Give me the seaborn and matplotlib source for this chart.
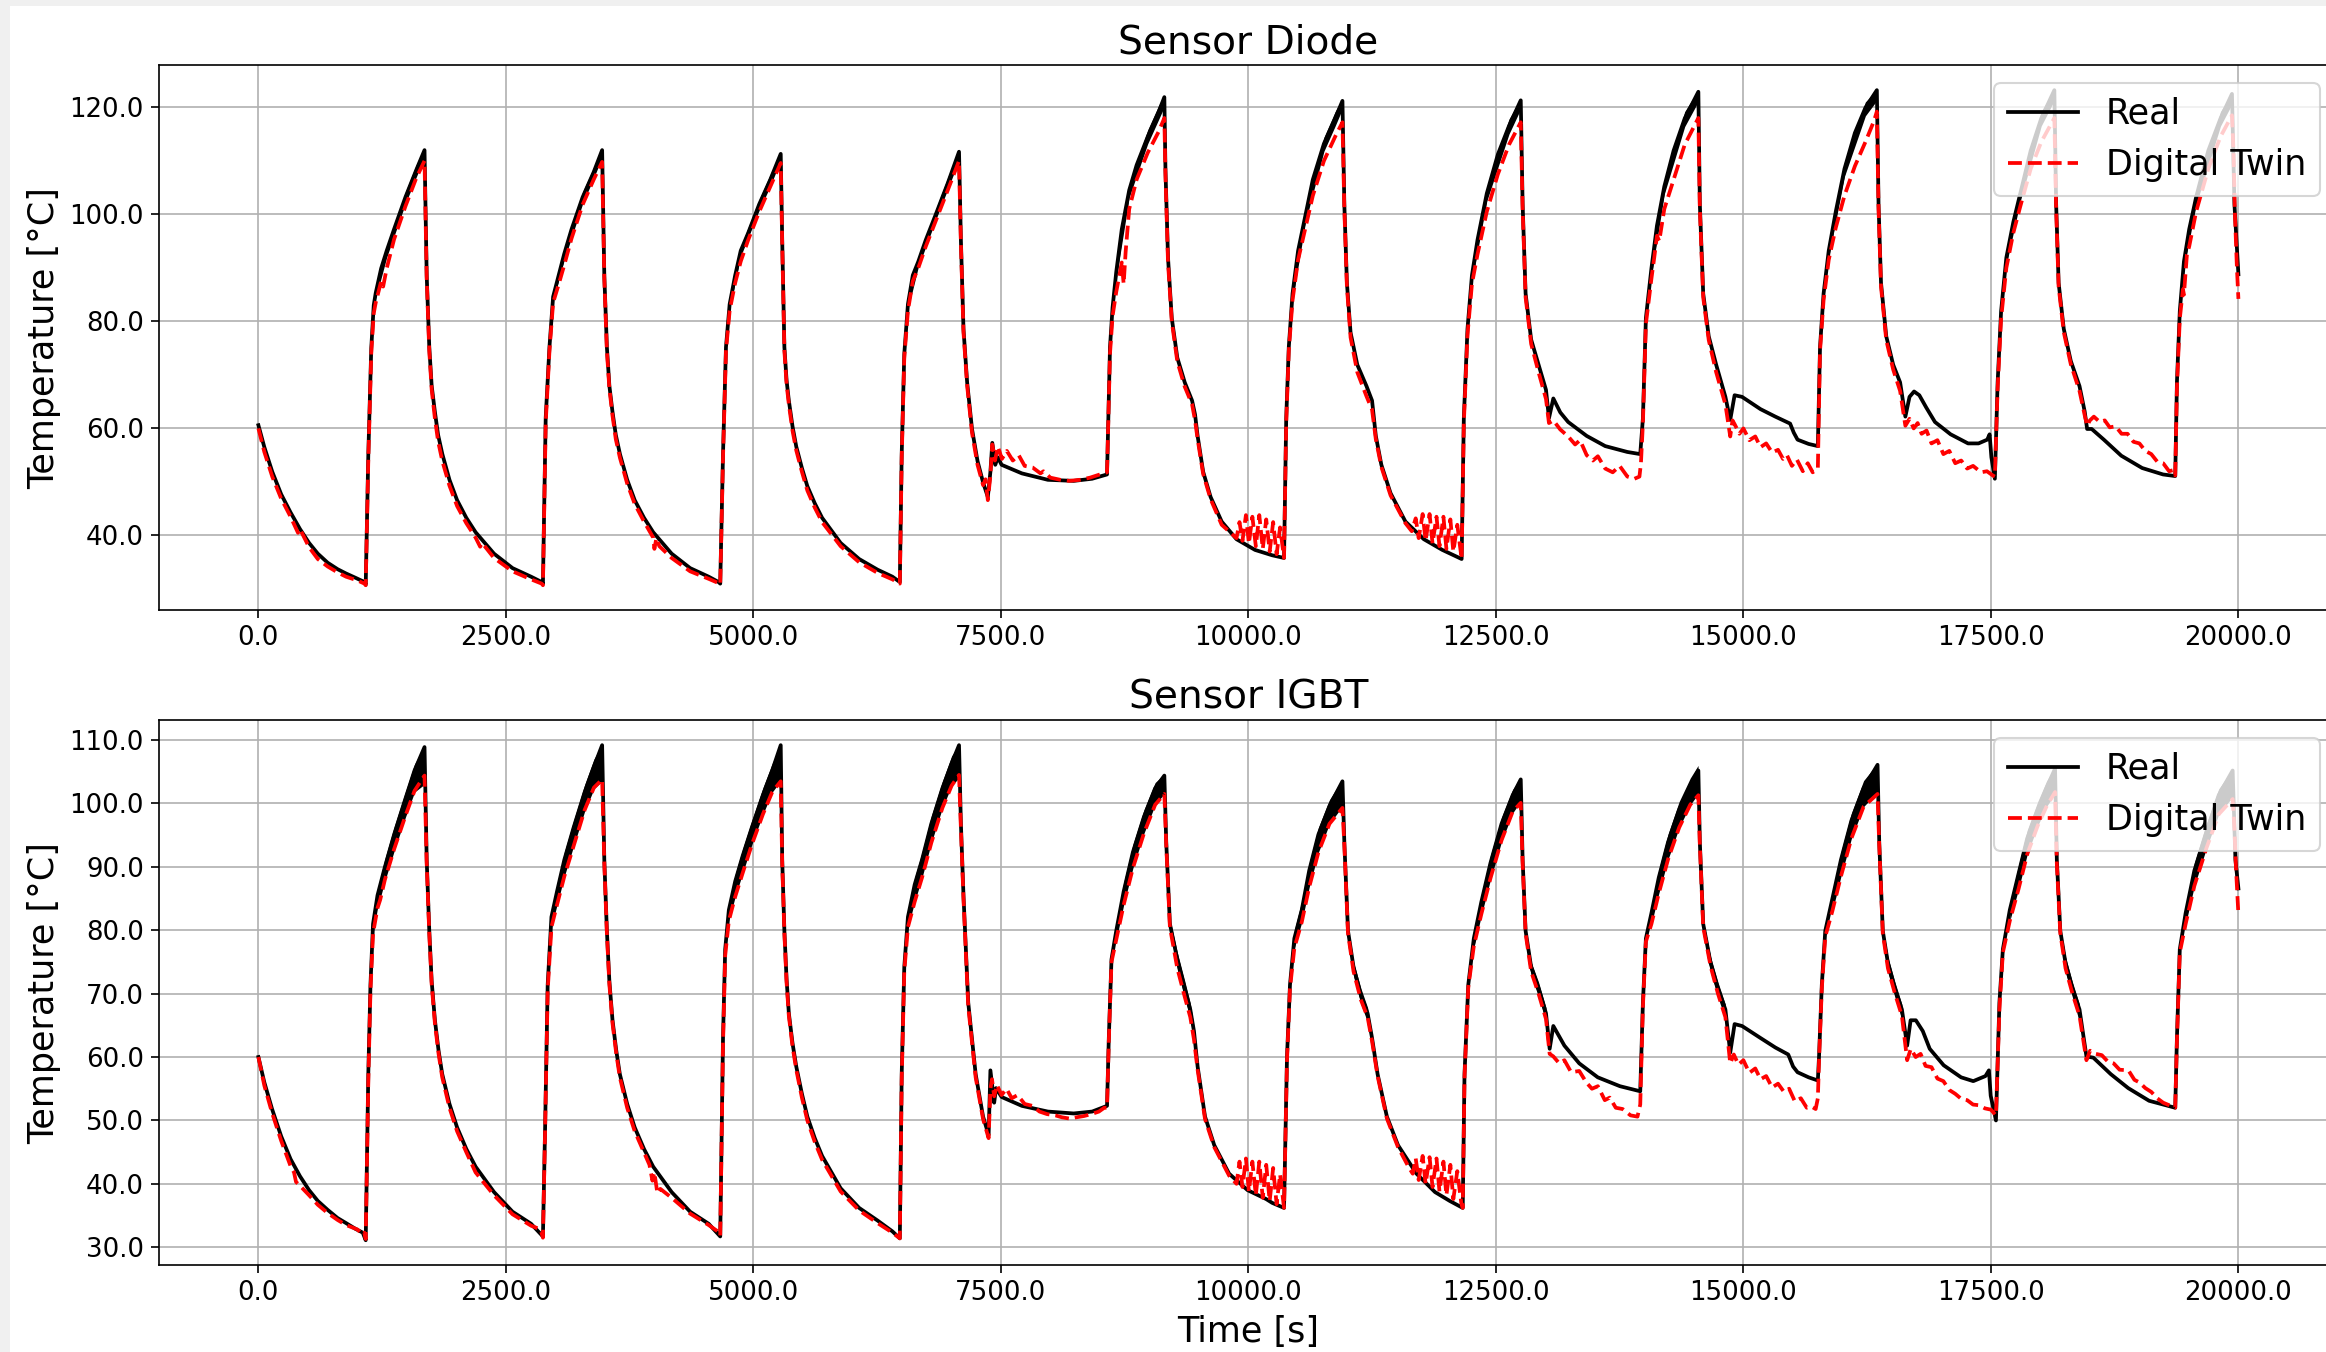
import numpy as np
import matplotlib
matplotlib.use("Agg")
import matplotlib.pyplot as plt
from matplotlib.ticker import MultipleLocator, FormatStrFormatter
from matplotlib.patches import Rectangle
import seaborn as sns

# ---------------------------------------------------------------------------
# Measured temperature traces, [time s, temperature degC]
# ---------------------------------------------------------------------------
diode_real = np.array([
    [0, 60.6], [60, 56.5], [140, 51.9], [230, 47.7], [325, 44.3], [420, 41.2], [512, 38.6], [600, 36.6],
    [700, 34.9], [800, 33.7], [885, 32.9], [980, 32.1], [1072, 31.3], [1084, 30.8],
    [1110, 55.0], [1140, 75.0], [1165, 83.0], [1185, 85.3], [1240, 89.9], [1296, 93.2], [1370, 97.2],
    [1485, 103.2], [1595, 108.3], [1678, 112.0],
    [1700, 88.6], [1726, 75.2], [1750, 68.0], [1782, 63.2], [1815, 58.8], [1858, 55.2], [1930, 50.4],
    [2007, 46.6], [2100, 43.3], [2194, 40.6], [2380, 36.6],
    [2567, 33.9], [2754, 32.3], [2862, 31.3], [2874, 30.9],
    [2902, 62.0], [2940, 75.2], [2977, 84.6], [3033, 88.6], [3089, 92.6], [3163, 97.2], [3275, 103.2],
    [3387, 107.9], [3472, 112.0],
    [3494, 88.6], [3520, 75.2], [3545, 68.0], [3576, 63.2], [3610, 58.8], [3652, 55.2], [3725, 50.4],
    [3801, 46.6], [3895, 43.3], [3988, 40.6], [4174, 36.6],
    [4361, 33.9], [4548, 32.3], [4648, 31.3], [4665, 31.0],
    [4693, 55.2], [4723, 75.2], [4760, 83.2], [4816, 88.6], [4872, 93.2], [4947, 96.5], [5059, 101.9],
    [5171, 106.5], [5276, 111.3],
    [5291, 95.2], [5313, 75.2], [5335, 69.0], [5358, 65.2], [5395, 60.4], [5433, 56.6], [5490, 52.6],
    [5545, 49.2], [5620, 46.0], [5694, 43.3], [5881, 38.6],
    [6068, 35.6], [6255, 33.6], [6404, 32.3], [6479, 31.3],
    [6498, 55.2], [6524, 73.9], [6561, 83.2], [6610, 88.6], [6666, 91.2], [6741, 95.2], [6853, 100.5],
    [6965, 105.9], [7077, 111.7],
    [7096, 95.2], [7122, 78.6], [7159, 68.6], [7208, 59.9], [7264, 53.9], [7320, 49.9], [7368, 47.2],
    [7394, 51.9], [7413, 57.3], [7443, 53.2], [7469, 54.6], [7507, 53.2], [7712, 51.6], [7974, 50.4],
    [8235, 50.2], [8422, 50.6], [8572, 51.4],
    [8602, 75.2], [8628, 82.6], [8665, 89.2], [8721, 97.2], [8796, 104.5], [8871, 109.2], [8983, 114.5],
    [9095, 119.2], [9151, 121.9],
    [9162, 108.5], [9188, 91.9], [9226, 80.6], [9282, 73.2], [9357, 68.6], [9431, 65.2], [9461, 62.6],
    [9487, 58.6], [9543, 51.9], [9618, 47.2], [9730, 42.6], [9880, 39.3], [10067, 37.3], [10240, 36.3],
    [10360, 35.8],
    [10382, 61.9], [10408, 75.2], [10446, 85.2], [10502, 93.2], [10577, 99.9], [10651, 106.5],
    [10763, 113.2], [10876, 117.9], [10950, 121.2],
    [10969, 101.9], [10995, 87.2], [11032, 77.9], [11100, 71.9], [11193, 67.9], [11249, 65.2],
    [11287, 58.6], [11343, 53.2], [11436, 47.9], [11586, 42.6], [11772, 39.3], [11959, 37.3], [12154, 35.6],
    [12176, 61.9], [12213, 78.6], [12258, 88.6], [12314, 95.2], [12408, 103.9], [12520, 111.2],
    [12632, 116.5], [12751, 121.3],
    [12770, 101.9], [12800, 85.2], [12856, 76.6], [12931, 71.9], [13006, 67.2], [13036, 61.9],
    [13080, 65.6], [13150, 63.0], [13230, 61.2], [13417, 58.6], [13604, 56.7], [13828, 55.6], [13958, 55.2],
    [13985, 61.9], [14015, 80.6], [14071, 89.9], [14127, 97.9], [14201, 105.2], [14295, 111.9],
    [14407, 117.9], [14545, 122.9],
    [14560, 101.9], [14594, 85.2], [14650, 77.2], [14725, 71.9], [14818, 65.9], [14867, 61.6],
    [14911, 66.2], [14986, 65.9], [15173, 63.6], [15323, 62.2], [15472, 60.9], [15509, 59.2],
    [15547, 57.9], [15659, 57.1], [15752, 56.7],
    [15774, 75.2], [15810, 85.2], [15862, 93.2], [15933, 100.5], [16021, 108.5], [16126, 115.2],
    [16232, 119.9], [16348, 123.2],
    [16365, 101.9], [16390, 87.2], [16443, 77.2], [16513, 71.9], [16583, 68.6], [16636, 62.2],
    [16678, 65.9], [16724, 66.9], [16777, 66.2], [16847, 63.9], [16935, 61.2], [17093, 58.9],
    [17269, 57.2], [17375, 57.2], [17463, 57.9], [17487, 58.9], [17505, 54.6], [17540, 50.6],
    [17568, 68.6], [17603, 81.9], [17656, 91.9], [17726, 98.5], [17797, 103.9], [17902, 111.9],
    [18008, 117.9], [18141, 123.2],
    [18159, 101.9], [18184, 87.2], [18236, 78.6], [18307, 72.6], [18395, 67.9], [18447, 63.2],
    [18472, 59.9], [18518, 59.9], [18641, 57.9], [18817, 54.9], [19028, 52.6], [19239, 51.4], [19362, 51.1],
    [19379, 68.6], [19408, 81.9], [19450, 91.2], [19503, 97.2], [19573, 103.2], [19696, 111.9],
    [19819, 117.9], [19935, 122.5],
    [19960, 101.9], [20000, 88.8],
])

diode_twin = np.array([
    [0, 60.0], [60, 55.6], [140, 51.0], [230, 46.9], [325, 43.5], [400, 40.5], [420, 41.2], [512, 37.8],
    [600, 35.6], [700, 34.2], [800, 33.1], [885, 32.3], [1000, 31.6], [1072, 31.0], [1084, 30.7],
    [1110, 54.0], [1140, 74.0], [1165, 81.5], [1185, 83.5], [1240, 87.5], [1260, 86.5], [1296, 89.9],
    [1370, 95.3], [1485, 101.5], [1595, 106.8], [1678, 110.0],
    [1700, 88.0], [1726, 74.5], [1750, 67.3], [1782, 62.0], [1815, 57.6], [1858, 53.9], [1930, 49.3],
    [2007, 45.5], [2100, 42.3], [2194, 39.6], [2240, 37.9],
    [2260, 38.6], [2380, 35.8], [2567, 33.3], [2754, 31.8], [2862, 31.0], [2874, 30.7],
    [2902, 61.0], [2940, 74.5], [2977, 83.5], [3033, 86.9], [3089, 90.5], [3163, 95.5], [3275, 101.8],
    [3387, 106.5], [3472, 109.8],
    [3494, 88.0], [3520, 74.5], [3545, 67.5], [3576, 62.5], [3610, 58.0], [3652, 54.5], [3725, 49.7],
    [3801, 45.9], [3895, 42.6], [3988, 39.6], [4000, 37.5],
    [4020, 39.5], [4050, 38.0], [4174, 35.8], [4361, 33.3], [4548, 31.9], [4648, 31.1], [4665, 30.8],
    [4693, 54.5], [4723, 74.5], [4760, 82.0], [4816, 87.2], [4872, 91.2], [4947, 95.2], [5059, 100.5],
    [5171, 105.2], [5276, 109.6],
    [5291, 94.5], [5313, 74.5], [5335, 68.3], [5358, 64.5], [5395, 59.6], [5433, 55.9], [5490, 51.9],
    [5545, 48.4], [5620, 45.2], [5694, 42.5], [5881, 38.0],
    [6068, 35.0], [6255, 33.0], [6404, 31.8], [6479, 31.0],
    [6498, 54.5], [6524, 73.2], [6561, 82.0], [6610, 87.5], [6666, 90.0], [6741, 94.0], [6853, 99.3],
    [6965, 104.6], [7077, 110.0],
    [7096, 94.5], [7122, 78.0], [7159, 68.0], [7208, 59.2], [7264, 53.2], [7320, 49.4], [7345, 50.5],
    [7368, 46.6], [7394, 51.2], [7413, 57.0], [7440, 54.0], [7470, 56.6], [7510, 54.3], [7560, 55.8],
    [7620, 54.0], [7680, 55.0], [7740, 53.0], [7820, 52.7], [7900, 51.6], [7930, 52.0], [8000, 50.8],
    [8100, 50.4], [8190, 50.2], [8300, 50.4], [8400, 50.8], [8500, 51.4], [8572, 51.8],
    [8602, 74.0], [8628, 81.0], [8665, 85.5], [8721, 91.0], [8740, 87.0], [8760, 93.0], [8796, 101.0],
    [8871, 106.5], [8983, 111.5], [9095, 115.5], [9151, 118.0],
    [9162, 107.5], [9188, 91.0], [9226, 80.0], [9282, 72.5], [9357, 67.8], [9431, 64.5], [9461, 61.5],
    [9487, 58.0], [9543, 51.5], [9618, 46.8], [9730, 42.0], [9880, 39.5], [9910, 42.5], [9940, 39.0],
    [9975, 43.8], [10005, 38.5], [10040, 43.5], [10075, 38.0], [10110, 43.8], [10145, 37.5],
    [10180, 43.0], [10215, 37.0], [10250, 42.5], [10285, 36.5], [10320, 41.5], [10360, 35.8],
    [10382, 61.0], [10408, 74.5], [10446, 84.0], [10502, 91.5], [10577, 97.5], [10651, 103.5],
    [10763, 110.0], [10876, 114.5], [10950, 117.2],
    [10969, 101.0], [10995, 86.5], [11032, 77.0], [11100, 70.5], [11193, 66.0], [11249, 63.5],
    [11287, 58.0], [11343, 52.8], [11436, 47.5], [11586, 42.3], [11650, 40.8], [11690, 43.2],
    [11720, 39.5], [11760, 44.0], [11790, 39.0], [11830, 44.0], [11860, 38.5], [11900, 43.5],
    [11930, 38.0], [11970, 43.5], [12000, 37.5], [12040, 43.0], [12070, 37.0], [12110, 42.0], [12154, 35.6],
    [12176, 61.0], [12213, 77.5], [12258, 87.0], [12314, 92.5], [12408, 100.5], [12520, 107.5],
    [12632, 113.0], [12751, 117.2],
    [12770, 101.0], [12800, 84.5], [12856, 75.8], [12931, 70.5], [13006, 65.5], [13036, 61.0],
    [13080, 61.5], [13150, 59.8], [13230, 58.5], [13300, 57.0], [13350, 57.8], [13417, 55.0],
    [13480, 54.0], [13530, 54.8], [13604, 52.5], [13680, 51.8], [13750, 53.0], [13828, 51.0],
    [13900, 50.6], [13950, 51.0], [13965, 53.5],
    [13985, 61.0], [14015, 79.5], [14071, 88.0], [14100, 92.0], [14127, 96.0], [14150, 95.0],
    [14201, 101.0], [14295, 106.5], [14407, 113.0], [14545, 118.0],
    [14560, 101.0], [14594, 84.5], [14650, 76.5], [14725, 70.5], [14818, 64.5], [14867, 58.5],
    [14890, 61.5], [14911, 60.8], [14960, 59.0], [15000, 60.0], [15060, 57.8], [15120, 58.5],
    [15173, 56.5], [15230, 57.2], [15290, 55.5], [15350, 56.0], [15400, 54.3], [15440, 55.0],
    [15490, 53.0], [15540, 54.2], [15600, 52.0], [15650, 53.5], [15700, 51.8], [15752, 52.5],
    [15774, 74.5], [15810, 84.0], [15862, 91.5], [15933, 97.5], [16021, 103.5], [16126, 109.0],
    [16232, 113.5], [16320, 117.5], [16348, 119.2],
    [16365, 101.0], [16390, 86.5], [16443, 76.5], [16513, 71.0], [16583, 67.0], [16636, 60.5],
    [16678, 61.8], [16720, 60.0], [16760, 61.0], [16800, 59.0], [16850, 59.6], [16900, 57.2],
    [16960, 57.8], [17020, 55.2], [17080, 55.8], [17140, 53.5], [17200, 54.0], [17260, 52.5],
    [17320, 53.0], [17400, 51.8], [17460, 52.0], [17520, 51.2], [17540, 51.0],
    [17568, 67.5], [17603, 80.5], [17656, 90.0], [17726, 96.5], [17797, 101.5], [17902, 108.5],
    [18008, 113.5], [18141, 118.0],
    [18159, 101.0], [18184, 86.5], [18236, 78.0], [18307, 72.0], [18395, 67.0], [18447, 62.5],
    [18472, 60.5], [18500, 61.5], [18540, 62.2], [18600, 61.2], [18650, 61.5], [18700, 60.2],
    [18760, 60.4], [18820, 59.0], [18880, 59.0], [18940, 57.5], [19000, 57.2], [19060, 55.8],
    [19120, 55.2], [19180, 53.8], [19240, 53.5], [19300, 52.0], [19340, 52.2], [19362, 51.2],
    [19379, 67.5], [19408, 80.5], [19440, 86.0], [19450, 85.0], [19480, 92.5], [19503, 94.0],
    [19573, 100.5], [19696, 108.5], [19819, 114.5], [19935, 118.5],
    [19950, 112.0], [19965, 100.0], [19985, 90.0], [20000, 84.2],
])

# ripple envelope of the measured diode trace while heating: [time, low, high]
diode_band = [
    [[1185, 84.3, 86.0], [1296, 92.0, 94.0], [1485, 102.0, 104.2], [1595, 107.0, 109.3], [1675, 110.5, 112.3]],
    [[2977, 83.8, 85.5], [3089, 91.5, 93.5], [3275, 102.0, 104.2], [3387, 106.8, 108.8], [3469, 110.5, 112.3]],
    [[4760, 82.3, 84.0], [4872, 92.2, 94.0], [5059, 100.8, 102.8], [5171, 105.3, 107.5], [5273, 110.0, 111.6]],
    [[6561, 82.3, 84.0], [6666, 90.2, 92.0], [6853, 99.5, 101.5], [6965, 104.8, 107.0], [7074, 110.0, 111.9]],
    [[8665, 88.0, 90.2], [8796, 103.2, 105.6], [8983, 113.2, 115.8], [9095, 117.8, 120.4], [9148, 120.0, 122.2]],
    [[10446, 84.0, 86.2], [10577, 98.6, 101.0], [10763, 111.8, 114.4], [10876, 116.5, 119.2], [10947, 119.6, 121.6]],
    [[12258, 87.4, 89.6], [12408, 102.5, 105.0], [12632, 115.0, 117.8], [12748, 119.6, 121.6]],
    [[14071, 88.6, 90.9], [14201, 103.8, 106.4], [14407, 116.4, 119.2], [14542, 121.0, 123.2]],
    [[15862, 92.0, 94.2], [16021, 107.1, 109.8], [16232, 118.4, 121.0], [16345, 121.2, 123.2]],
    [[17656, 90.6, 93.0], [17797, 102.5, 105.2], [18008, 116.5, 119.2], [18138, 121.2, 123.2]],
    [[19450, 90.0, 92.2], [19573, 101.8, 104.4], [19819, 116.5, 119.2], [19932, 120.5, 122.6]],
]

igbt_real = np.array([
    [0, 60.0], [60, 56.0], [138, 51.8], [230, 47.5], [325, 43.9], [420, 41.2], [512, 39.0], [600, 37.3],
    [699, 35.9], [800, 34.6], [886, 33.8], [980, 32.9], [1054, 32.3], [1084, 31.1],
    [1110, 57.3], [1132, 71.4], [1158, 81.0], [1203, 85.5], [1278, 90.0], [1371, 95.1], [1484, 100.7],
    [1577, 105.2], [1678, 108.9],
    [1700, 91.1], [1726, 79.9], [1750, 72.0], [1783, 65.8], [1820, 61.0], [1857, 57.3], [1930, 52.6],
    [2007, 48.9], [2100, 45.5], [2194, 42.7], [2380, 38.7],
    [2567, 35.6], [2754, 33.7], [2874, 31.7],
    [2896, 48.9], [2922, 71.4], [2960, 82.1], [3016, 86.1], [3090, 91.1], [3184, 96.2], [3296, 101.8],
    [3389, 105.8], [3472, 109.2],
    [3494, 91.1], [3520, 79.9], [3545, 72.0], [3577, 65.8], [3615, 61.0], [3651, 57.3], [3725, 52.6],
    [3801, 48.9], [3895, 45.5], [3988, 42.7], [4174, 38.7],
    [4361, 35.6], [4548, 33.7], [4665, 31.7],
    [4693, 63.0], [4715, 77.0], [4752, 83.2], [4816, 87.7], [4891, 91.7], [4984, 96.2], [5096, 101.3],
    [5190, 105.2], [5276, 109.2],
    [5291, 91.1], [5313, 79.9], [5335, 72.3], [5358, 66.9], [5395, 62.2], [5433, 58.5], [5490, 54.2],
    [5545, 50.6], [5620, 47.2], [5694, 44.4], [5881, 39.3],
    [6068, 36.2], [6255, 34.2], [6404, 32.5], [6479, 31.4],
    [6498, 57.3], [6524, 74.2], [6561, 82.1], [6629, 87.2], [6703, 91.1], [6797, 96.8], [6909, 102.4],
    [7002, 106.3], [7077, 109.2],
    [7096, 96.8], [7122, 85.5], [7170, 68.6], [7245, 57.3], [7320, 50.6], [7376, 47.7], [7394, 57.9],
    [7432, 52.8], [7451, 55.1], [7507, 53.7], [7712, 52.3], [7974, 51.4], [8235, 51.1], [8422, 51.4],
    [8572, 52.3],
    [8590, 63.0], [8617, 75.4], [8665, 79.9], [8740, 86.1], [8833, 92.3], [8945, 97.9], [9058, 102.4],
    [9151, 104.4],
    [9170, 93.9], [9207, 81.0], [9282, 75.4], [9357, 70.8], [9413, 67.5], [9450, 64.1], [9487, 58.5],
    [9562, 50.6], [9655, 46.1], [9805, 41.6], [9992, 39.0], [10179, 37.6], [10240, 37.0], [10360, 36.2],
    [10390, 60.1], [10420, 71.4], [10464, 78.7], [10539, 83.2], [10614, 89.4], [10707, 95.1],
    [10819, 99.6], [10950, 103.5],
    [10969, 93.9], [11006, 79.9], [11062, 74.2], [11137, 69.7], [11204, 66.9], [11249, 63.0],
    [11305, 57.3], [11399, 50.6], [11511, 46.1], [11698, 41.6], [11885, 38.7], [12034, 37.3], [12165, 36.2],
    [12183, 57.3], [12221, 71.4], [12277, 78.7], [12352, 84.4], [12445, 90.6], [12557, 96.8],
    [12669, 101.3], [12751, 103.8],
    [12770, 91.1], [12800, 79.9], [12856, 74.2], [12931, 70.8], [13006, 66.9], [13043, 61.3],
    [13080, 64.9], [13192, 61.8], [13342, 59.0], [13529, 56.8], [13753, 55.4], [13958, 54.6],
    [13985, 68.6], [14015, 78.7], [14071, 82.7], [14145, 88.3], [14239, 93.9], [14351, 99.0],
    [14463, 102.7], [14545, 105.2],
    [14560, 93.9], [14594, 81.0], [14669, 74.8], [14743, 70.8], [14818, 67.5], [14867, 60.7],
    [14911, 65.2], [14986, 64.9], [15173, 63.0], [15323, 61.5], [15453, 60.4], [15502, 58.5],
    [15547, 57.6], [15659, 56.8], [15752, 56.3],
    [15764, 60.1], [15792, 71.4], [15827, 79.9], [15898, 84.9], [15985, 91.1], [16091, 97.3],
    [16214, 102.4], [16355, 106.1],
    [16372, 93.9], [16408, 79.9], [16460, 74.8], [16531, 70.8], [16601, 67.5], [16654, 61.8],
    [16689, 65.8], [16742, 65.8], [16812, 64.1], [16882, 61.3], [17023, 58.7], [17199, 56.8],
    [17322, 56.2], [17445, 57.0], [17480, 57.9], [17498, 53.9], [17551, 50.0],
    [17586, 68.6], [17621, 77.0], [17691, 83.2], [17779, 88.9], [17867, 94.5], [17973, 99.0],
    [18061, 102.4], [18148, 105.5],
    [18166, 91.1], [18201, 79.9], [18254, 74.8], [18324, 70.8], [18395, 67.5], [18465, 60.1],
    [18535, 59.9], [18711, 57.3], [18887, 55.1], [19098, 53.1], [19362, 52.0],
    [19379, 63.0], [19408, 77.0], [19467, 82.7], [19555, 89.4], [19678, 95.6], [19801, 101.3],
    [19942, 105.2],
    [19970, 91.1], [20000, 86.6],
])

igbt_twin = np.array([
    [0, 60.0], [60, 55.5], [138, 51.2], [230, 46.8], [325, 42.8], [360, 41.8], [380, 40.3], [420, 39.7],
    [512, 38.2], [600, 36.7], [699, 35.4], [800, 34.3], [886, 33.5], [1000, 32.8], [1054, 32.0],
    [1070, 32.3], [1084, 31.3],
    [1110, 56.0], [1132, 70.5], [1158, 79.5], [1203, 83.5], [1230, 84.8], [1278, 88.0], [1371, 92.8],
    [1484, 98.0], [1577, 102.0], [1678, 104.4],
    [1700, 90.5], [1726, 79.5], [1750, 71.5], [1783, 65.3], [1820, 60.5], [1857, 56.8], [1930, 52.0],
    [2007, 48.3], [2100, 45.0], [2194, 41.8],
    [2380, 38.2], [2567, 35.2], [2754, 33.4], [2850, 32.8], [2874, 31.5],
    [2896, 48.5], [2922, 70.5], [2960, 80.5], [3016, 84.0], [3090, 88.5], [3184, 93.3], [3296, 99.0],
    [3389, 102.5], [3472, 103.8],
    [3494, 90.5], [3520, 79.5], [3545, 71.5], [3577, 65.3], [3615, 60.5], [3651, 56.8], [3725, 52.0],
    [3801, 48.3], [3950, 43.0], [3980, 40.5],
    [4000, 41.8], [4030, 38.5], [4060, 39.2], [4174, 37.8], [4361, 35.3], [4548, 33.5], [4640, 32.5],
    [4665, 31.8],
    [4693, 62.0], [4715, 76.0], [4752, 81.5], [4816, 85.3], [4891, 89.0], [4984, 93.5], [5096, 98.3],
    [5190, 101.8], [5276, 103.5],
    [5291, 90.5], [5313, 79.5], [5335, 71.8], [5358, 66.5], [5395, 61.7], [5433, 58.0], [5490, 53.6],
    [5545, 50.0], [5620, 46.6], [5694, 43.8], [5881, 38.8],
    [6068, 35.8], [6255, 33.8], [6404, 32.3], [6479, 31.4],
    [6498, 56.5], [6524, 73.5], [6561, 80.5], [6629, 84.5], [6703, 88.3], [6797, 93.8], [6909, 99.3],
    [7002, 102.8], [7077, 104.5],
    [7096, 96.0], [7122, 85.0], [7170, 68.0], [7245, 56.8], [7320, 50.2], [7376, 47.2], [7394, 55.0],
    [7410, 56.5], [7432, 53.8], [7460, 55.6], [7507, 54.0], [7556, 55.0], [7610, 53.5], [7668, 54.0],
    [7740, 52.6], [7817, 52.3], [7890, 51.4], [7966, 51.0], [8050, 50.8], [8115, 50.5], [8190, 50.3],
    [8265, 50.5], [8340, 50.7], [8414, 51.0], [8490, 51.4], [8544, 52.0], [8572, 52.0],
    [8590, 62.5], [8617, 75.0], [8665, 78.5], [8740, 84.0], [8833, 89.8], [8945, 95.3], [9058, 99.8],
    [9151, 101.5],
    [9170, 93.5], [9207, 80.5], [9282, 74.0], [9357, 69.5], [9413, 66.3], [9450, 62.8], [9487, 58.0],
    [9562, 50.2], [9655, 45.8], [9805, 41.3], [9880, 40.0], [9910, 43.5], [9940, 39.5], [9975, 44.0],
    [10005, 38.8], [10040, 43.5], [10075, 38.2], [10110, 43.5], [10145, 37.8], [10180, 43.0],
    [10215, 37.3], [10250, 42.5], [10285, 36.8], [10320, 41.5], [10360, 36.2],
    [10390, 59.5], [10420, 70.8], [10464, 77.2], [10539, 81.3], [10614, 86.8], [10707, 92.3],
    [10819, 96.8], [10950, 99.3],
    [10969, 93.5], [11006, 79.5], [11062, 73.5], [11137, 69.0], [11204, 66.3], [11249, 62.5],
    [11305, 57.0], [11399, 50.3], [11511, 45.8], [11620, 42.6], [11660, 41.6], [11690, 44.0],
    [11720, 40.6], [11760, 44.4], [11790, 40.0], [11830, 44.2], [11860, 39.5], [11900, 44.0],
    [11930, 38.8], [11970, 43.5], [12000, 38.2], [12040, 43.0], [12070, 37.6], [12110, 42.0],
    [12150, 37.0], [12165, 36.2],
    [12183, 56.8], [12221, 71.0], [12277, 77.5], [12352, 82.5], [12445, 88.2], [12557, 94.2],
    [12669, 98.7], [12751, 100.1],
    [12770, 90.5], [12800, 79.5], [12856, 73.5], [12931, 70.0], [13006, 66.0], [13043, 60.5],
    [13080, 60.1], [13140, 59.0], [13192, 59.5], [13260, 57.6], [13342, 57.8], [13413, 56.0],
    [13470, 55.0], [13530, 55.4], [13600, 53.2], [13650, 53.6], [13711, 52.0], [13780, 51.8],
    [13860, 50.8], [13930, 50.6], [13958, 52.5],
    [13985, 68.0], [14015, 78.2], [14071, 81.0], [14145, 85.8], [14239, 91.2], [14351, 96.2],
    [14463, 99.8], [14545, 101.3],
    [14560, 93.5], [14594, 80.5], [14669, 74.3], [14743, 70.0], [14818, 66.3], [14867, 59.0],
    [14903, 60.4], [14950, 58.8], [15000, 59.5], [15060, 57.5], [15120, 58.2], [15173, 56.5],
    [15230, 57.0], [15290, 55.2], [15350, 55.8], [15410, 54.5], [15462, 55.0], [15520, 53.0],
    [15580, 53.5], [15640, 52.0], [15686, 52.2], [15730, 51.8], [15752, 53.5],
    [15764, 59.5], [15792, 70.8], [15827, 79.0], [15898, 83.0], [15985, 88.5], [16091, 94.5],
    [16214, 99.5], [16355, 101.5],
    [16372, 93.5], [16408, 79.5], [16460, 74.0], [16531, 70.0], [16601, 66.5], [16654, 59.5],
    [16691, 61.3], [16740, 60.0], [16790, 60.5], [16840, 58.6], [16900, 58.4], [16960, 56.6],
    [17020, 56.2], [17080, 54.8], [17140, 54.2], [17201, 53.4], [17260, 53.2], [17320, 52.5],
    [17380, 52.4], [17440, 51.9], [17500, 51.7], [17551, 50.8],
    [17586, 67.5], [17621, 76.5], [17691, 81.5], [17779, 86.5], [17867, 92.0], [17973, 96.5],
    [18061, 99.5], [18148, 101.8],
    [18166, 90.5], [18201, 79.5], [18254, 74.0], [18324, 70.0], [18395, 66.5], [18465, 59.5],
    [18502, 61.0], [18560, 60.5], [18620, 60.3], [18680, 59.3], [18740, 59.0], [18800, 58.0],
    [18889, 57.9], [18950, 56.4], [19000, 56.0], [19060, 55.1], [19120, 54.5], [19180, 53.5],
    [19240, 52.8], [19300, 52.4], [19362, 52.0],
    [19379, 62.5], [19408, 76.5], [19467, 81.0], [19555, 87.0], [19678, 93.0], [19801, 98.3],
    [19942, 100.7],
    [19960, 96.0], [19975, 90.0], [20000, 82.5],
])

# ripple envelope of the measured IGBT trace: [time, low, high]
igbt_band = [
    [[1158, 79.5, 81.8], [1203, 83.5, 86.5], [1278, 87.8, 91.3], [1371, 92.5, 96.3], [1484, 97.8, 101.8], [1577, 101.8, 106.2], [1675, 103.0, 109.0]],
    [[2960, 80.5, 83.0], [3016, 84.0, 87.3], [3090, 88.5, 92.3], [3184, 93.3, 97.3], [3296, 98.8, 103.0], [3389, 102.3, 107.0], [3469, 103.5, 109.2]],
    [[4752, 81.5, 84.3], [4816, 85.3, 88.8], [4891, 89.0, 92.8], [4984, 93.5, 97.3], [5096, 98.3, 102.5], [5190, 101.8, 106.3], [5273, 103.5, 109.2]],
    [[6561, 80.5, 83.2], [6629, 84.5, 88.3], [6703, 88.3, 92.3], [6797, 93.8, 98.0], [6909, 99.3, 103.5], [7002, 102.8, 107.5], [7074, 104.0, 109.2]],
    [[8665, 78.5, 81.2], [8740, 84.0, 87.5], [8833, 89.8, 93.5], [8945, 95.3, 99.0], [9058, 99.8, 103.3], [9148, 101.5, 104.6]],
    [[9207, 80.5, 81.8], [9282, 73.8, 76.5], [9357, 69.2, 72.0], [9413, 66.0, 68.5], [9450, 62.5, 64.8]],
    [[10464, 77.2, 80.0], [10539, 81.3, 84.6], [10614, 86.8, 90.6], [10707, 92.3, 96.2], [10819, 96.8, 100.6], [10947, 99.5, 103.8]],
    [[11006, 79.2, 80.5], [11062, 72.8, 75.0], [11137, 68.3, 70.8], [11204, 65.5, 67.8], [11249, 61.8, 63.5]],
    [[12277, 77.2, 79.8], [12352, 82.3, 85.6], [12445, 88.0, 91.8], [12557, 94.0, 97.8], [12669, 98.5, 102.2], [12748, 100.3, 104.0]],
    [[12800, 79.2, 80.5], [12856, 72.8, 75.0], [12931, 69.5, 71.8], [13006, 65.5, 67.8]],
    [[14071, 81.0, 83.8], [14145, 85.8, 89.5], [14239, 91.2, 95.2], [14351, 96.2, 100.3], [14463, 99.8, 104.0], [14542, 101.5, 106.0]],
    [[14594, 80.3, 81.6], [14669, 73.3, 75.8], [14743, 69.4, 71.8], [14818, 66.0, 68.3]],
    [[15898, 83.0, 86.0], [15985, 88.5, 92.3], [16091, 94.5, 98.5], [16214, 99.5, 103.6], [16352, 101.8, 106.3]],
    [[16408, 79.2, 80.5], [16460, 73.3, 75.8], [16531, 69.4, 71.8], [16601, 66.0, 68.3]],
    [[17691, 81.5, 84.3], [17779, 86.5, 90.2], [17867, 92.0, 95.8], [17973, 96.5, 100.3], [18061, 99.5, 103.5], [18145, 101.5, 105.8]],
    [[18201, 79.2, 80.5], [18254, 73.3, 75.8], [18324, 69.4, 71.8], [18395, 65.5, 68.3]],
    [[19467, 81.0, 83.8], [19555, 87.0, 90.6], [19678, 93.0, 96.8], [19801, 98.3, 102.3], [19939, 101.0, 105.4]],
]

panel_titles = ["Sensor Diode", "Sensor IGBT"]
series_labels = ["Real", "Digital Twin"]
y_label = "Temperature [°C]"
x_label = "Time [s]"

# ---------------------------------------------------------------------------
plt.rcParams.update({
    "font.family": ["DejaVu Sans"],
    "axes.linewidth": 0.8,
    "grid.color": "#b0b0b0",
    "grid.linewidth": 0.8,
    "xtick.major.size": 3.7,
    "ytick.major.size": 3.7,
    "xtick.major.pad": 3.7,
    "ytick.major.pad": 3.7,
})

DPI = 150
W, H = 2326, 1352
fig = plt.figure(figsize=(W / DPI, H / DPI), dpi=DPI)
fig.patch.set_facecolor("#f0f0f0")
fig.add_artist(Rectangle((10 / W, 0), 1, 1 - 6 / H, transform=fig.transFigure,
                         facecolor="white", edgecolor="none", zorder=-10))

left = 159.4 / W
width = (2337.4 - 159.4) / W
ax_top = fig.add_axes([left, 1 - 610.0 / H, width, (610.0 - 65.4) / H])
ax_bot = fig.add_axes([left, 1 - 1265.0 / H, width, (1265.0 - 720.4) / H])

TICK_FS = 12.5
LABEL_FS = 16.8
TITLE_FS = 18.8


def draw_panel(ax, real, twin, bands, title, ystep):
    for seg in bands:
        seg = np.asarray(seg, dtype=float)
        ax.fill_between(seg[:, 0], seg[:, 1], seg[:, 2], color="black", lw=0, zorder=2)
    sns.lineplot(x=real[:, 0], y=real[:, 1], ax=ax, color="black", lw=1.8,
                 label=series_labels[0], sort=False, estimator=None, zorder=2)
    sns.lineplot(x=twin[:, 0], y=twin[:, 1], ax=ax, color="red", lw=1.8, linestyle="--",
                 label=series_labels[1], sort=False, estimator=None, zorder=3)
    ax.set_title(title, fontsize=TITLE_FS, pad=5.5)
    ax.set_ylabel(y_label, fontsize=LABEL_FS)
    ax.set_xlabel("")
    ax.set_xlim(-1000, 21000)
    ax.xaxis.set_major_locator(MultipleLocator(2500))
    ax.yaxis.set_major_locator(MultipleLocator(ystep))
    ax.xaxis.set_major_formatter(FormatStrFormatter("%.1f"))
    ax.yaxis.set_major_formatter(FormatStrFormatter("%.1f"))
    ax.tick_params(labelsize=TICK_FS)
    ax.set_axisbelow(True)
    ax.grid(True)
    ax.set_facecolor("white")
    ax.legend(loc="upper right", fontsize=LABEL_FS)


draw_panel(ax_top, diode_real, diode_twin, diode_band, panel_titles[0], 20)
draw_panel(ax_bot, igbt_real, igbt_twin, igbt_band, panel_titles[1], 10)
ax_bot.set_xlabel(x_label, fontsize=LABEL_FS)

fig.savefig("out.png", dpi=DPI)
